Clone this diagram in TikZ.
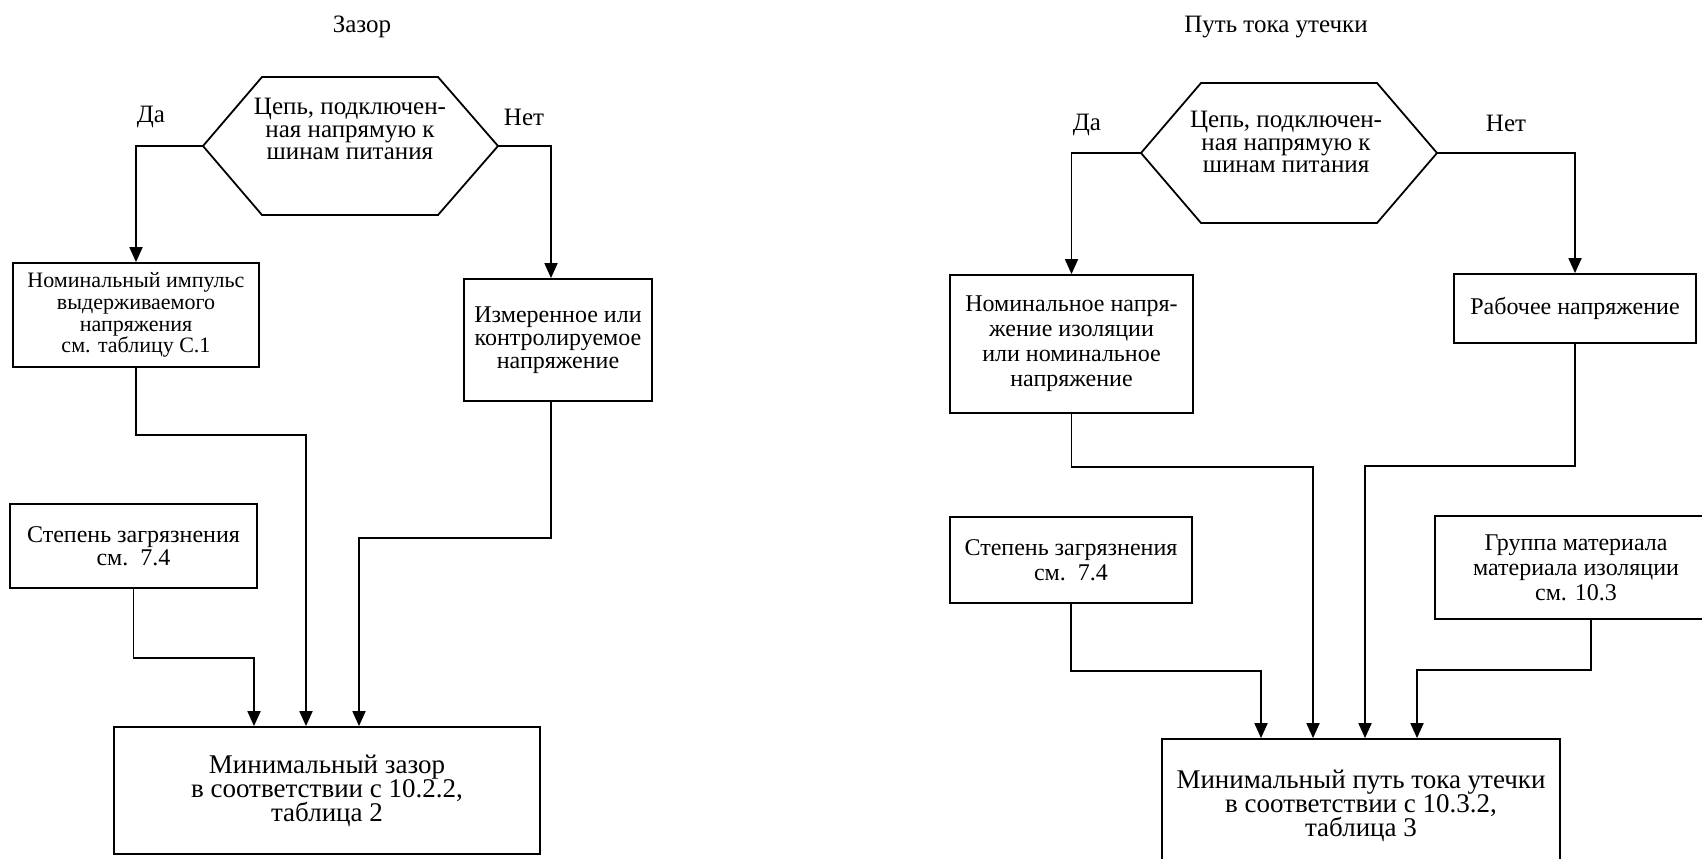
\documentclass[tikz,border=0pt]{standalone}
\usepackage{fontspec}
\setmainfont{Liberation Serif}
\usetikzlibrary{arrows.meta,positioning,calc}

\begin{document}
\begin{tikzpicture}[
  x=0.5pt, y=-0.5pt,
  box/.style={draw, line width=0.9pt, inner sep=0pt, align=center, font=\fontsize{12}{11.5}\selectfont},
  rbox/.style={box, font=\fontsize{12}{12.5}\selectfont},
  bigbox/.style={box, font=\fontsize{13.5}{12}\selectfont},
  lbl/.style={inner sep=0pt, font=\fontsize{12.5}{12}\selectfont},
  qtext/.style={inner sep=0pt, align=center, font=\fontsize{12.5}{11.2}\selectfont},
  hexline/.style={line width=0.9pt, line join=miter},
  arr/.style={-{Triangle[length=7.5pt, width=6.5pt]}, line width=0.9pt}
]
  \clip (0,0) rectangle (1702,858);
  \fill[white] (0,0) rectangle (1702,858);

  % left: Зазор
  \node[lbl] (ttlL) at (362,27) {Зазор};
  \coordinate (hexLw) at (203,146);
  \coordinate (hexLe) at (498,146);
  \draw[hexline] (hexLw) -- (262,77) -- (438,77) -- (hexLe) -- (438,215) -- (262,215) -- cycle;
  \node[qtext] (qL) at (350,129) {Цепь, подключен-\\ная напрямую к\\шинам питания};
  \node[lbl] (yesL) at (151,117) {Да};
  \node[lbl] (noL) at (524,117) {Нет};

  \node[box, font=\fontsize{11}{10.9}\selectfont, minimum width=123pt, minimum height=52pt] (impA) at (136,315) {Номинальный импульс\\выдерживаемого\\напряжения\\см. таблицу С.1};
  \node[box, minimum width=94pt, minimum height=61pt] (measB) at (558,340) {Измеренное или\\контролируемое\\напряжение};
  \node[box, minimum width=123.5pt, minimum height=42pt] (pollC) at (133.5,546) {Степень загрязнения\\см.~~7.4};
  \node[bigbox, minimum width=213pt, minimum height=63.5pt] (minD) at (327,790.5) {Минимальный зазор\\в соответствии с 10.2.2,\\таблица 2};

  \draw[arr] (hexLw) -| (impA.north);
  \draw[arr] (hexLe) -| ([xshift=-3.5pt]measB.north);
  \draw[arr] (impA.south) -- ++(0,67) -| ([xshift=-10.5pt]minD.north);
  \draw[arr] ([xshift=-3.5pt]measB.south) -- ++(0,136) -| ([xshift=16pt]minD.north);
  \draw[arr] (pollC.south) -- ++(0,69) -| ([xshift=-36.5pt]minD.north);

  % right: Путь тока утечки
  \node[lbl] (ttlR) at (1276,27) {Путь тока утечки};
  \coordinate (hexRw) at (1141,153);
  \coordinate (hexRe) at (1437,153);
  \draw[hexline] (hexRw) -- (1201,83) -- (1377,83) -- (hexRe) -- (1377,223) -- (1201,223) -- cycle;
  \node[qtext] (qR) at (1286,142) {Цепь, подключен-\\ная напрямую к\\шинам питания};
  \node[lbl] (yesR) at (1087,125) {Да};
  \node[lbl] (noR) at (1506,123) {Нет};

  \node[rbox, minimum width=121.5pt, minimum height=69pt] (nomE) at (1071.5,344) {Номинальное напря-\\жение изоляции\\или номинальное\\напряжение};
  \node[rbox, minimum width=121pt, minimum height=34.5pt] (workF) at (1575,308.5) {Рабочее напряжение};
  \node[rbox, minimum width=121pt, minimum height=43pt] (pollG) at (1071,560) {Степень загрязнения\\см.~~7.4};
  \node[rbox, minimum width=141pt, minimum height=51.5pt] (grpH) at (1576,567.5) {Группа материала\\материала изоляции\\см. 10.3};
  \node[bigbox, minimum width=199pt, minimum height=67pt] (minI) at (1361,806) {Минимальный путь тока утечки\\в соответствии с 10.3.2,\\таблица 3};

  \draw[arr] (hexRw) -| (nomE.north);
  \draw[arr] (hexRe) -| (workF.north);
  \draw[arr] (nomE.south) -- ++(0,53) -| ([xshift=-24pt]minI.north);
  \draw[arr] (workF.south) -- ++(0,122) -| ([xshift=2pt]minI.north);
  \draw[arr] (pollG.south) -- ++(0,67) -| ([xshift=-50pt]minI.north);
  \draw[arr] ([xshift=7.5pt]grpH.south) -- ++(0,50) -| ([xshift=28pt]minI.north);
\end{tikzpicture}
\end{document}
